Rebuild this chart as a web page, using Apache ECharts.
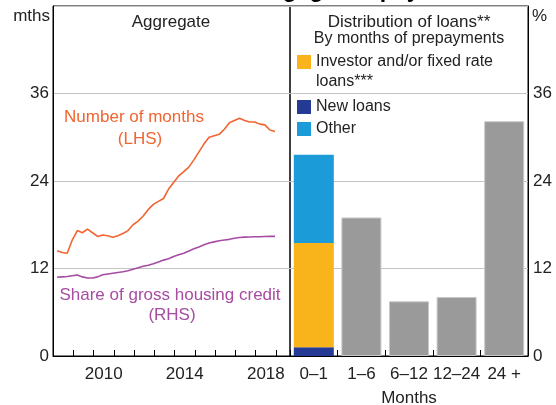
<!DOCTYPE html>
<html>
<head>
<meta charset="utf-8">
<script src="https://cdn.jsdelivr.net/npm/echarts@6/dist/echarts.min.js"></script>
<style>
  html, body { margin: 0; padding: 0; background: #fff; }
  #main { width: 556px; height: 405px; }
</style>
</head>
<body>
<div id="main"></div>
<script>
// quarter-end months, Mar 2008 .. Dec 2018
const quarters = [
  '2008-03', '2008-06', '2008-09', '2008-12', '2009-03', '2009-06', '2009-09', '2009-12',
  '2010-03', '2010-06', '2010-09', '2010-12', '2011-03', '2011-06', '2011-09', '2011-12',
  '2012-03', '2012-06', '2012-09', '2012-12', '2013-03', '2013-06', '2013-09', '2013-12',
  '2014-03', '2014-06', '2014-09', '2014-12', '2015-03', '2015-06', '2015-09', '2015-12',
  '2016-03', '2016-06', '2016-09', '2016-12', '2017-03', '2017-06', '2017-09', '2017-12',
  '2018-03', '2018-06', '2018-09', '2018-12'
];
// number of months ahead (LHS)
const monthsAhead = [
  14.45, 14.2, 14.1, 15.9, 17.2, 16.9, 17.4, 16.9,
  16.4, 16.6, 16.5, 16.3, 16.5, 16.8, 17.2, 18.0,
  18.5, 19.2, 20.1, 20.8, 21.2, 21.6, 22.9, 23.8,
  24.7, 25.3, 25.9, 26.9, 28.0, 29.1, 30.0, 30.2,
  30.4, 31.1, 32.0, 32.3, 32.6, 32.3, 32.1, 32.1,
  31.8, 31.7, 31.0, 30.8
];
// share of gross housing credit, % (RHS)
const creditShare = [
  10.8, 10.85, 10.9, 11.0, 11.1, 10.85, 10.7, 10.7,
  10.85, 11.15, 11.25, 11.35, 11.45, 11.55, 11.7, 11.9,
  12.1, 12.3, 12.45, 12.65, 12.9, 13.15, 13.35, 13.65,
  13.9, 14.1, 14.4, 14.7, 14.95, 15.25, 15.5, 15.65,
  15.8, 15.9, 16.0, 16.15, 16.25, 16.3, 16.32, 16.35,
  16.36, 16.38, 16.4, 16.4
];

const buckets = ['0–1', '1–6', '6–12', '12–24', '24 +'];
const newLoans = [1.2, null, null, null, null];
const investorLoans = [14.3, null, null, null, null];
const otherLoans = [12.1, null, null, null, null];
const allLoans = [null, 19.0, 7.5, 8.1, 32.2];

const yearTicks = [2009, 2010, 2011, 2012, 2013, 2014, 2015, 2016, 2017, 2018, 2019];
const yearLabels = [2010, 2014, 2018];

const font = "'Liberation Sans', Arial, sans-serif";
const orange = '#f26430';
const purple = '#a64ca2';

function quarterPos(q) {
  const [y, m] = q.split('-').map(Number);
  return y + (m - 0.6) / 12;
}

const myChart = echarts.init(document.getElementById('main'));

const axisText = { color: '#222', fontSize: 17, fontFamily: font };
const gridLine = { show: true, lineStyle: { color: '#c4c4c4', width: 1 } };

function txt(text, x, y, opts) {
  return {
    type: 'text',
    x: x,
    y: y,
    z: 100,
    style: Object.assign({
      text: text,
      fill: '#222',
      font: '17px ' + font,
      align: 'center',
      verticalAlign: 'middle'
    }, opts || {})
  };
}

const gridBase = {
  top: 6,
  bottom: 49,
  show: true,
  borderColor: '#000',
  borderWidth: 1,
  backgroundColor: 'transparent',
  containLabel: false,
  outerBoundsMode: 'none'
};

const option = {
  backgroundColor: '#fff',
  animation: false,
  grid: [
    Object.assign({ left: 53, right: 266 }, gridBase),
    Object.assign({ left: 290, right: 28 }, gridBase)
  ],
  xAxis: [
    {
      type: 'value',
      gridIndex: 0,
      min: 2008,
      max: 2019.69,
      splitLine: { show: false },
      axisLine: { lineStyle: { color: '#000' } },
      axisTick: { show: true, inside: true, length: 6, customValues: yearTicks, lineStyle: { color: '#000' } },
      axisLabel: Object.assign({ customValues: yearLabels.map(v => v + 0.5), margin: 10, formatter: v => String(Math.floor(v)) }, axisText)
    },
    {
      type: 'category',
      gridIndex: 1,
      data: buckets,
      axisLine: { lineStyle: { color: '#000' } },
      axisTick: { show: true, inside: true, length: 6, lineStyle: { color: '#000' } },
      axisLabel: Object.assign({ margin: 10, interval: 0 }, axisText),
      name: 'Months',
      nameLocation: 'middle',
      nameGap: 34,
      nameTextStyle: axisText
    }
  ],
  yAxis: [
    {
      type: 'value',
      gridIndex: 0,
      min: 0,
      max: 48,
      interval: 12,
      position: 'left',
      axisLine: { show: true, lineStyle: { color: '#000' } },
      axisTick: { show: false },
      splitLine: gridLine,
      axisLabel: Object.assign({ margin: 4, showMaxLabel: false }, axisText)
    },
    {
      type: 'value',
      gridIndex: 1,
      min: 0,
      max: 48,
      interval: 12,
      position: 'right',
      axisLine: { show: true, lineStyle: { color: '#000' } },
      axisTick: { show: false },
      splitLine: gridLine,
      axisLabel: Object.assign({ margin: 5, showMaxLabel: false }, axisText)
    },
    {
      // RHS scale for the share line, same range as the bars
      type: 'value',
      gridIndex: 0,
      min: 0,
      max: 48,
      interval: 12,
      position: 'right',
      show: false
    }
  ],
  legend: [
    { data: ['Investor and/or fixed rate loans***'], formatter: () => 'Investor and/or fixed rate' },
    { data: ['New loans'] },
    { data: ['Other'] }
  ].map((l, i) => Object.assign({
    left: 297,
    top: [54, 99, 121][i],
    padding: 0,
    icon: 'rect',
    itemWidth: 14,
    itemHeight: 14,
    selectedMode: false,
    textStyle: { color: '#222', fontSize: 16, fontFamily: font }
  }, l)),
  series: [
    {
      name: 'Number of months',
      type: 'line',
      xAxisIndex: 0,
      yAxisIndex: 0,
      symbol: 'none',
      lineStyle: { color: orange, width: 1.6 },
      data: quarters.map((q, i) => [quarterPos(q), monthsAhead[i]])
    },
    {
      name: 'Share of gross housing credit',
      type: 'line',
      xAxisIndex: 0,
      yAxisIndex: 2,
      symbol: 'none',
      lineStyle: { color: purple, width: 1.6 },
      data: quarters.map((q, i) => [quarterPos(q), creditShare[i]])
    },
    {
      name: 'New loans',
      type: 'bar',
      xAxisIndex: 1,
      yAxisIndex: 1,
      stack: 'dist',
      barWidth: 40,
      itemStyle: { color: '#253a94' },
      data: newLoans
    },
    {
      name: 'Investor and/or fixed rate loans***',
      type: 'bar',
      xAxisIndex: 1,
      yAxisIndex: 1,
      stack: 'dist',
      barWidth: 40,
      itemStyle: { color: '#f9b31b' },
      data: investorLoans
    },
    {
      name: 'Other',
      type: 'bar',
      xAxisIndex: 1,
      yAxisIndex: 1,
      stack: 'dist',
      barWidth: 40,
      itemStyle: { color: '#1b9cd8' },
      data: otherLoans
    },
    {
      name: 'All loans',
      type: 'bar',
      xAxisIndex: 1,
      yAxisIndex: 1,
      stack: 'dist',
      barWidth: 40,
      itemStyle: { color: '#9a9a9a', borderColor: '#c8c8c8', borderWidth: 1 },
      data: allLoans
    }
  ],
  graphic: [
    txt('Mortgage Prepayments', 360, 2, { font: 'bold 23px ' + font, fill: '#000', verticalAlign: 'bottom' }),
    txt('mths', 50, 16, { align: 'right' }),
    txt('%', 532, 16, { align: 'left' }),
    txt('Aggregate', 171, 22),
    txt('Distribution of loans**', 409, 22),
    txt('By months of prepayments', 409, 39, { font: '16px ' + font }),
    txt('loans***', 316, 82, { align: 'left', font: '16px ' + font }),
    txt('Number of months', 134, 117, { fill: orange }),
    txt('(LHS)', 140, 139, { fill: orange }),
    txt('Share of gross housing credit', 170, 295, { fill: purple }),
    txt('(RHS)', 172, 315, { fill: purple })
  ]
};

myChart.setOption(option);
</script>
</body>
</html>
